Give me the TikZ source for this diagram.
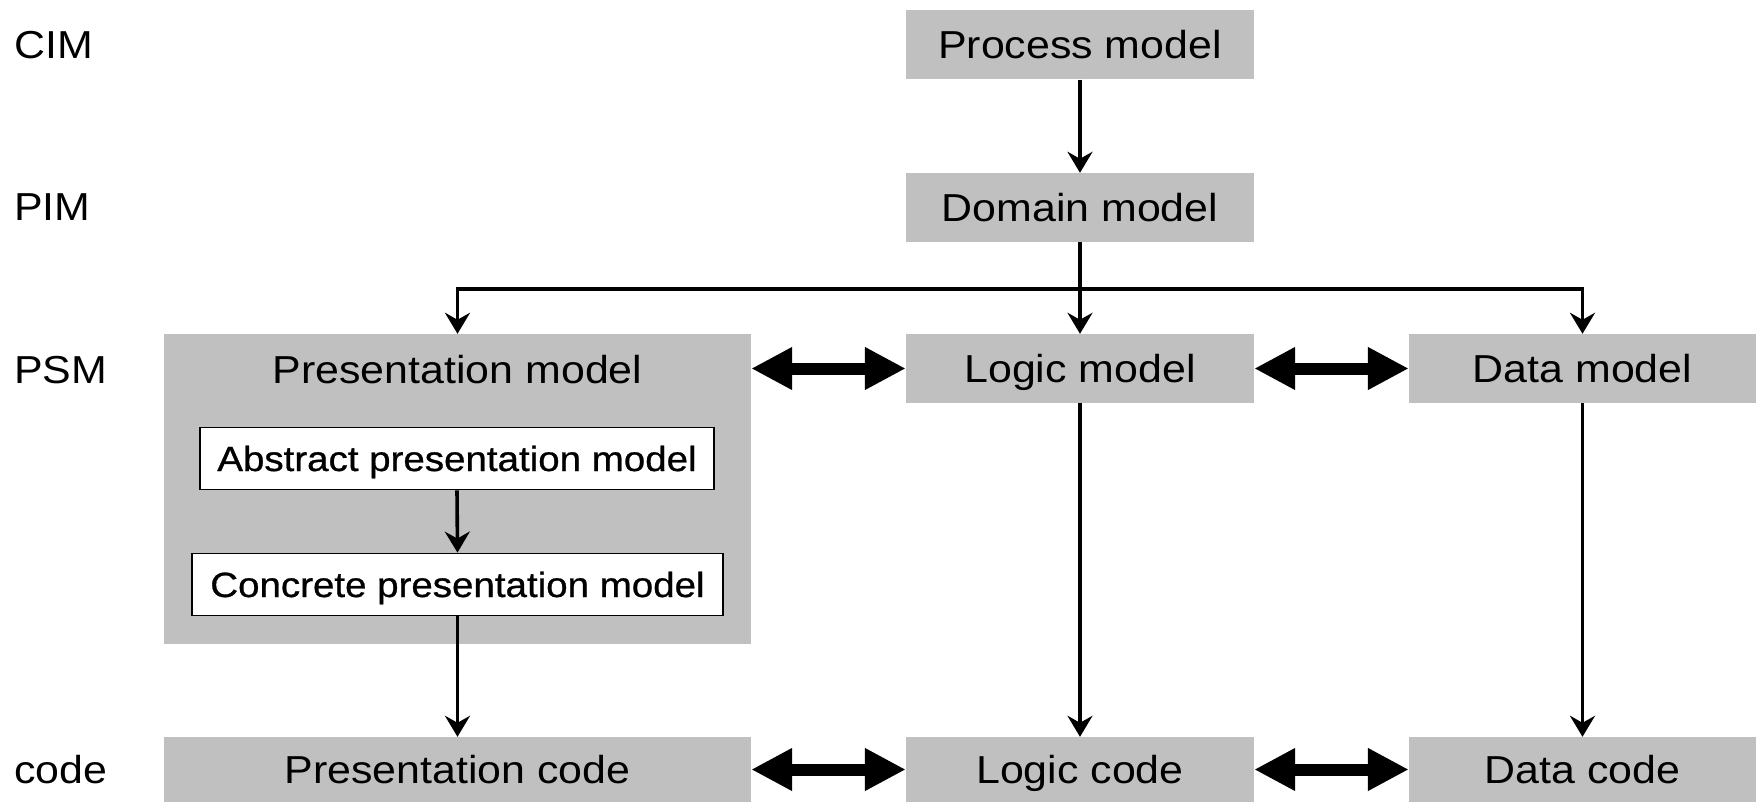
\documentclass[tikz,border=0pt]{standalone}
\usepackage{fontspec}
\setmainfont{Liberation Sans}[FakeStretch=1.1]
\newfontfamily\innerfont{Liberation Sans}[FakeStretch=1.1, FakeBold=0.8]
\usetikzlibrary{arrows.meta}
\definecolor{boxgray}{RGB}{192,192,192}

\tikzset{
  txt/.style={inner sep=0pt, font=\fontsize{39}{44}\selectfont, text height=28pt, text depth=0pt},
  graybox/.style={txt, fill=boxgray, minimum width=348pt, minimum height=69pt},
  wide/.style={minimum width=587pt},
  whitebox/.style={inner sep=0pt, font=\innerfont\fontsize{35}{40}\selectfont, text height=25pt, text depth=0pt,
    fill=white, draw=black, line width=1.8pt, minimum height=62pt},
  flow/.style={line width=3.6pt, -{Stealth[length=21pt, width=25pt, inset=7pt]}},
  link/.style={line width=12pt, {Triangle[length=41pt, width=40pt]}-{Triangle[length=41pt, width=40pt]}},
}

\begin{document}
\begin{tikzpicture}[x=1pt, y=-1pt]
  \useasboundingbox (0,0) rectangle (1756,802);

  % level labels
  \node[txt, anchor=west] (cim)  at (14,45)    {CIM};
  \node[txt, anchor=west] (pim)  at (14,207)   {PIM};
  \node[txt, anchor=west] (psm)  at (14,369)   {PSM};
  \node[txt, anchor=west, text height=20pt] (code) at (14,773) {code};

  % CIM / PIM
  \node[graybox] (proc) at (1080,45)    {Process model};
  \node[graybox] (dom)  at (1080,207.5) {Domain model};

  % PSM
  \node[graybox, wide, minimum height=310pt] (pres) at (457.5,489) {};
  \node[txt] (presl) at (457.5,369) {Presentation model};
  \node[graybox] (logic) at (1080,368.5)   {Logic model};
  \node[graybox, minimum width=347pt] (data) at (1582.5,368.5) {Data model};

  \node[whitebox, minimum width=514pt] (abs) at (457,458.5) {Abstract presentation model};
  \node[whitebox, minimum width=531pt] (con) at (457.5,584.5) {Concrete presentation model};

  % code
  \node[graybox, wide, minimum height=65pt] (pcode) at (457.5,769.5) {Presentation code};
  \node[graybox, minimum height=65pt] (lcode) at (1080,769.5) {Logic code};
  \node[graybox, minimum width=347pt, minimum height=65pt] (dcode) at (1582.5,769.5) {Data code};

  % refinement flow
  \coordinate (bus) at (1080,289);
  \draw[flow] (proc.south) -- (dom.north);
  \draw[flow] (dom.south) -- (logic.north);
  \draw[flow] (bus) -| (pres.north);
  \draw[flow] (bus) -| (data.north);
  \draw[flow] (abs.south) -- (con.north);
  \draw[flow] (con.south) -- (pcode.north);
  \draw[flow] (logic.south) -- (lcode.north);
  \draw[flow] (data.south) -- (dcode.north);

  % interactions between layers
  \draw[link] (logic.west -| pres.east) -- (logic.west);
  \draw[link] (logic.east) -- (data.west);
  \draw[link] (pcode.east) -- (lcode.west);
  \draw[link] (lcode.east) -- (dcode.west);
\end{tikzpicture}
\end{document}
